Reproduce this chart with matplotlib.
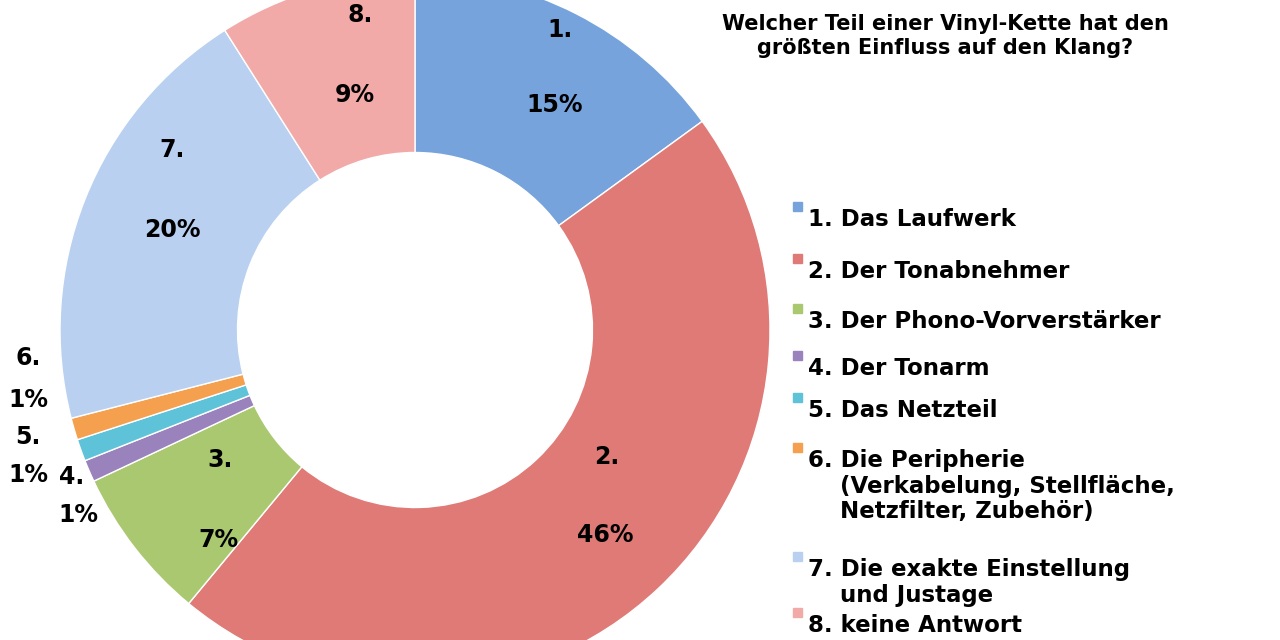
import matplotlib
matplotlib.use("Agg")
import matplotlib.pyplot as plt

values = [15, 46, 7, 1, 1, 1, 20, 9]
numbers = ["1.", "2.", "3.", "4.", "5.", "6.", "7.", "8."]
legend_labels = ["1. Das Laufwerk", "2. Der Tonabnehmer", "3. Der Phono-Vorverstärker",
                 "4. Der Tonarm", "5. Das Netzteil",
                 "6. Die Peripherie\n    (Verkabelung, Stellfläche,\n    Netzfilter, Zubehör)",
                 "7. Die exakte Einstellung\n    und Justage", "8. keine Antwort"]
colors = ["#76a3dc", "#e07a76", "#a9c870", "#9a82bd", "#5ec2d8", "#f4a04e", "#b9d0f0", "#f1aaa8"]
# label positions in pixels (number, percent)
num_px = [(560, 30), (607, 457), (220, 460), (72, 477), (28, 437), (28, 358), (172, 150), (360, 15)]
pct_px = [(555, 105), (605, 535), (218, 540), (78, 515), (28, 475), (28, 400), (172, 230), (355, 95)]
legend_y = [219, 271, 321, 368, 410, 460, 569, 625]

plt.rcParams["font.family"] = ["DejaVu Sans"]
fig = plt.figure(figsize=(12.8, 6.4), dpi=100)
cx, cy, R = 415, 330, 355
ax = fig.add_axes([(cx - R) / 1280, (640 - cy - R) / 640, 2 * R / 1280, 2 * R / 640])
ax.pie(values, colors=colors, startangle=90, counterclock=False, radius=1,
       wedgeprops=dict(width=0.5, edgecolor="white", linewidth=1))
ax.set_xlim(-1, 1)
ax.set_ylim(-1, 1)
ax.set_aspect("equal")
ax.axis("off")

def to_data(p):
    return (p[0] - cx) / R, (cy - p[1]) / R

for n, v, pn, pp in zip(numbers, values, num_px, pct_px):
    x, y = to_data(pn)
    ax.text(x, y, n, ha="center", va="center", fontsize=17, fontweight="bold", clip_on=False)
    x, y = to_data(pp)
    ax.text(x, y, f"{v}%", ha="center", va="center", fontsize=17, fontweight="bold", clip_on=False)

fig.text(945 / 1280, 1 - 36 / 640, "Welcher Teil einer Vinyl-Kette hat den\ngrößten Einfluss auf den Klang?",
         ha="center", va="center", fontsize=15, fontweight="bold", linespacing=1.25)

for lab, col, y in zip(legend_labels, colors, legend_y):
    fig.patches.append(plt.Rectangle((793 / 1280, 1 - (y - 8) / 640), 9 / 1280, 9 / 640,
                                     transform=fig.transFigure, color=col))
    fig.text(808 / 1280, 1 - (y - 11) / 640, lab, ha="left", va="top", fontsize=16.5,
             fontweight="bold", linespacing=1.15)

fig.savefig("out.png", dpi=100)
